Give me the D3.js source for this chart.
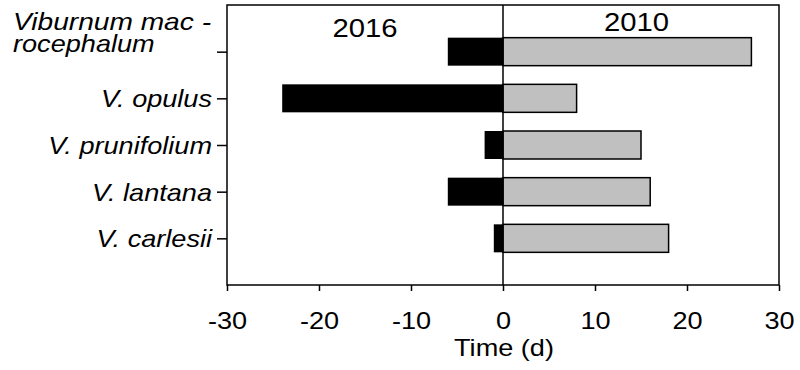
<!DOCTYPE html>
<html>
<head>
<meta charset="utf-8">
<script src="https://cdn.jsdelivr.net/npm/d3@7"></script>
<style>
  body { margin: 0; background: #fff; }
  text { font-family: "Liberation Sans", Arial, sans-serif; fill: #000; }
</style>
</head>
<body>
<div id="chart"></div>
<script>
// Data
const species = ["Viburnum macrocephalum", "V. opulus", "V. prunifolium", "V. lantana", "V. carlesii"];
const values2016 = [-6, -24, -2, -6, -1];
const values2010 = [27, 8, 15, 16, 18];
const xTicks = [-30, -20, -10, 0, 10, 20, 30];
const yearLabels = [{ year: "2016", at: -15 }, { year: "2010", at: 14.5 }];

const margin = { top: 5, right: 21, bottom: 85, left: 227 },
      width = 800 - margin.left - margin.right,
      height = 370 - margin.top - margin.bottom;

const stretch = 1.13; // text in the figure is a bit wider than Arial

const svg = d3.select("#chart").append("svg")
    .attr("width", 800)
    .attr("height", 370);

const g = svg.append("g")
    .attr("transform", `translate(${margin.left}, ${margin.top})`);

const x = d3.scaleLinear()
    .domain([-30, 30])
    .range([0, width]);

const y = d3.scalePoint()
    .domain(species)
    .range([0, height])
    .padding(1);

const barH = y.step() * 0.6;

// Bars for 2016 (black, negative side)
g.selectAll(".bar2016")
    .data(species)
    .enter().append("rect")
    .attr("class", "bar2016")
    .attr("x", (d, i) => x(Math.min(0, values2016[i])))
    .attr("y", d => y(d) - barH / 2)
    .attr("width", (d, i) => Math.abs(x(values2016[i]) - x(0)))
    .attr("height", barH)
    .style("fill", "#000");

// Bars for 2010 (grey, positive side)
g.selectAll(".bar2010")
    .data(species)
    .enter().append("rect")
    .attr("class", "bar2010")
    .attr("x", x(0))
    .attr("y", d => y(d) - barH / 2)
    .attr("width", (d, i) => x(values2010[i]) - x(0))
    .attr("height", barH)
    .style("fill", "#c0c0c0")
    .style("stroke", "#000")
    .style("stroke-width", 1.5);

// Zero line
g.append("line")
    .attr("x1", x(0)).attr("x2", x(0))
    .attr("y1", 0).attr("y2", height)
    .style("stroke", "#000")
    .style("stroke-width", 1.5);

// Frame
g.append("rect")
    .attr("width", width)
    .attr("height", height)
    .style("fill", "none")
    .style("stroke", "#000")
    .style("stroke-width", 1.5);

// X axis
const xAxisGroup = g.append("g")
    .attr("transform", `translate(0, ${height})`)
    .call(d3.axisBottom(x)
        .tickValues(xTicks)
        .tickSize(6)
        .tickSizeOuter(0)
        .tickPadding(21)
        .tickFormat(d => d < 0 ? "-" + Math.abs(d) : d));

xAxisGroup.select(".domain").remove();
xAxisGroup.selectAll(".tick line").style("stroke", "#000").style("stroke-width", 1.5);
xAxisGroup.selectAll("text")
    .style("font-size", "24px")
    .attr("transform", `scale(${stretch},1)`);

// Y axis ticks only, labels drawn below
const yAxisGroup = g.append("g")
    .call(d3.axisLeft(y).tickSize(10).tickSizeOuter(0).tickFormat(""));
yAxisGroup.select(".domain").remove();
yAxisGroup.selectAll(".tick line").style("stroke", "#000").style("stroke-width", 1.5);

// Species labels
species.forEach((name, i) => {
    if (i === 0) {
        // long name is hyphenated over two lines, kept as one text
        const t = svg.append("text")
            .attr("transform", `translate(13, ${margin.top + y(name) - 22}) scale(${stretch},1)`)
            .style("font-size", "24px")
            .style("font-style", "italic");
        t.append("tspan")
            .attr("x", 0)
            .attr("textLength", 198 / stretch)
            .attr("lengthAdjust", "spacingAndGlyphs")
            .text("Viburnum mac -");
        t.append("tspan")
            .attr("x", 0)
            .attr("dy", 22)
            .text("rocephalum");
    } else {
        svg.append("text")
            .attr("transform", `translate(212, ${margin.top + y(name) + 9}) scale(${stretch},1)`)
            .attr("text-anchor", "end")
            .style("font-size", "24px")
            .style("font-style", "italic")
            .text(name);
    }
});

// Year labels
yearLabels.forEach((d, i) => {
    g.append("text")
        .attr("transform", `translate(${x(d.at)}, ${i === 0 ? 32 : 26}) scale(1.17,1)`)
        .attr("text-anchor", "middle")
        .style("font-size", "25px")
        .text(d.year);
});

// X axis title
g.append("text")
    .attr("transform", `translate(${x(0) + 1}, ${height + 71}) scale(${stretch},1)`)
    .attr("text-anchor", "middle")
    .style("font-size", "24px")
    .text("Time (d)");
</script>
</body>
</html>
